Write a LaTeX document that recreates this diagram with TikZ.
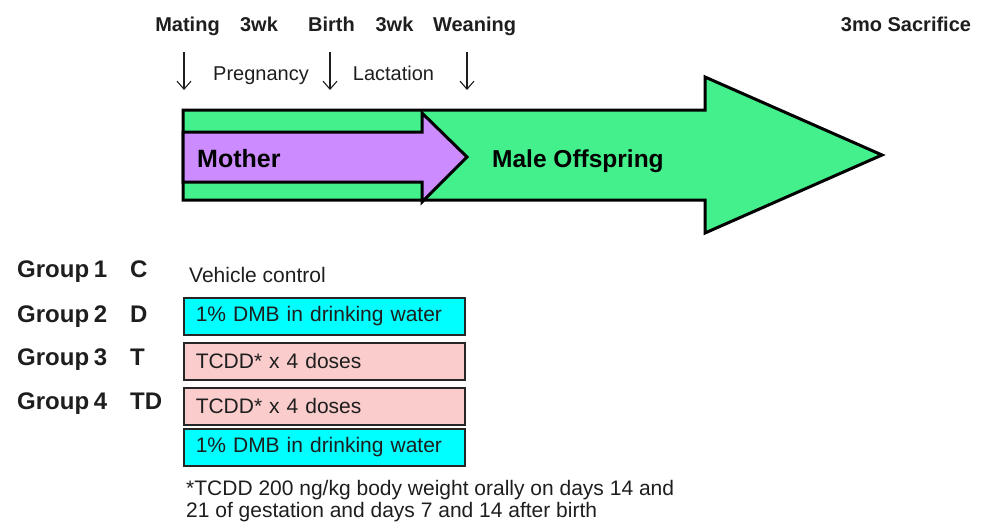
\documentclass[tikz,border=0pt]{standalone}
\usepackage{fontspec}
\setmainfont{Liberation Sans}
\usetikzlibrary{calc}
\usetikzlibrary{arrows.meta}

\definecolor{offgreen}{RGB}{68,240,140}
\definecolor{motherpurple}{RGB}{204,140,255}
\definecolor{dmbcyan}{RGB}{0,255,255}
\definecolor{tcddpink}{RGB}{250,204,204}
\definecolor{inkgray}{RGB}{30,30,30}

\begin{document}
\begin{tikzpicture}[x=1pt,y=-1pt,
  toplabel/.style={font=\fontsize{20}{24}\selectfont\bfseries, text=inkgray, inner sep=0pt, anchor=base},
  phase/.style={font=\fontsize{20}{24}\selectfont, text=inkgray, inner sep=0pt, anchor=base},
  grouplabel/.style={font=\fontsize{24}{28}\selectfont\bfseries, text=inkgray, inner sep=0pt, anchor=base west},
  treat/.style={draw=black!85, line width=1.5pt, anchor=north west, inner ysep=0pt, inner xsep=12pt,
    minimum height=37pt, text width=257pt, align=left, text=inkgray,
    font=\fontsize{21}{24}\selectfont},
  bigarrow/.style={draw=black, line width=3pt, line join=miter},
  timearrow/.style={draw=inkgray, line width=1.1pt, -{Straight Barb[length=8pt,width=14pt]}}
]
\useasboundingbox (0,0) rectangle (981,527);

% timeline labels
\node[toplabel] (mating) at (187.5,32) {Mating};
\node[toplabel] (wkone) at (259,32) {3wk};
\node[toplabel] (birth) at (331.5,32) {Birth};
\node[toplabel] (wktwo) at (394.5,32) {3wk};
\node[toplabel] (weaning) at (474.5,32) {Weaning};
\node[toplabel] (sacrifice) at (906,32) {3mo Sacrifice};

\node[phase] (pregnancy) at (261,80) {Pregnancy};
\node[phase] (lactation) at (393.5,80) {Lactation};

\coordinate (matingTop) at (184,52);
\coordinate (matingBot) at (184,90);
\coordinate (birthTop) at (330,52);
\coordinate (birthBot) at (330,90);
\coordinate (weanTop) at (467,52);
\coordinate (weanBot) at (467,90);
\draw[timearrow] (matingTop) -- (matingBot);
\draw[timearrow] (birthTop) -- (birthBot);
\draw[timearrow] (weanTop) -- (weanBot);

% offspring arrow
\coordinate (G1) at (183,110);
\coordinate (G2) at (705,110);
\coordinate (G3) at (705,77);
\coordinate (G4) at (882,155);
\coordinate (G5) at (705,233);
\coordinate (G6) at (705,200);
\coordinate (G7) at (183,200);
\fill[offgreen] (G1) -- (G2) -- (G3) -- (G4) -- (G5) -- (G6) -- (G7) -- cycle;
\draw[bigarrow] (G1) -- (G2) -- (G3) -- (G4) -- (G5) -- (G6) -- (G7) -- cycle;

% mother arrow
\coordinate (M1) at (183,132);
\coordinate (M2) at (422,132);
\coordinate (M3) at (422,113);
\coordinate (M4) at (467,157);
\coordinate (M5) at (422,202);
\coordinate (M6) at (422,182);
\coordinate (M7) at (183,182);
\fill[motherpurple] (M1) -- (M2) -- (M3) -- (M4) -- (M5) -- (M6) -- (M7) -- cycle;
\draw[bigarrow] (M1) -- (M2) -- (M3) -- (M4) -- (M5) -- (M6) -- (M7) -- cycle;

\node[font=\fontsize{25}{28}\selectfont\bfseries, inner sep=0pt, anchor=base west] (mother) at (197,167) {Mother};
\node[font=\fontsize{24.5}{28}\selectfont\bfseries, inner sep=0pt, anchor=base west] (offspring) at (492,167) {Male Offspring};

% groups
\node[grouplabel] (grpone) at (17,277) {Group\hspace{0.2em}1};
\node[grouplabel] (grptwo) at (17,322) {Group\hspace{0.2em}2};
\node[grouplabel] (grpthree) at (17,365) {Group\hspace{0.2em}3};
\node[grouplabel] (grpfour) at (17,409) {Group\hspace{0.2em}4};
\node[grouplabel] (codeC) at (130,277) {C};
\node[grouplabel] (codeD) at (130,322) {D};
\node[grouplabel] (codeT) at (130,365) {T};
\node[grouplabel] (codeTD) at (130,409) {TD};

\node[font=\fontsize{21}{24}\selectfont, text=inkgray, inner sep=0pt, anchor=base west] (vehicle) at (189,282) {Vehicle control};
\node[treat, fill=dmbcyan] (dmbD) at (183,297) {1\% DMB in drinking water};
\node[treat, fill=tcddpink] (tcddT) at (183,342) {TCDD* x 4 doses};
\node[treat, fill=tcddpink] (tcddTD) at (183,387) {TCDD* x 4 doses};
\node[treat, fill=dmbcyan] (dmbTD) at (183,428) {1\% DMB in drinking water};

\node[font=\fontsize{21}{22}\selectfont, text=inkgray, inner sep=0pt, anchor=base west, align=left] (footnote) at (186,517)
  {*TCDD 200 ng/kg body weight orally on days 14 and\\21 of gestation and days 7 and 14 after birth};

\end{tikzpicture}
\end{document}
